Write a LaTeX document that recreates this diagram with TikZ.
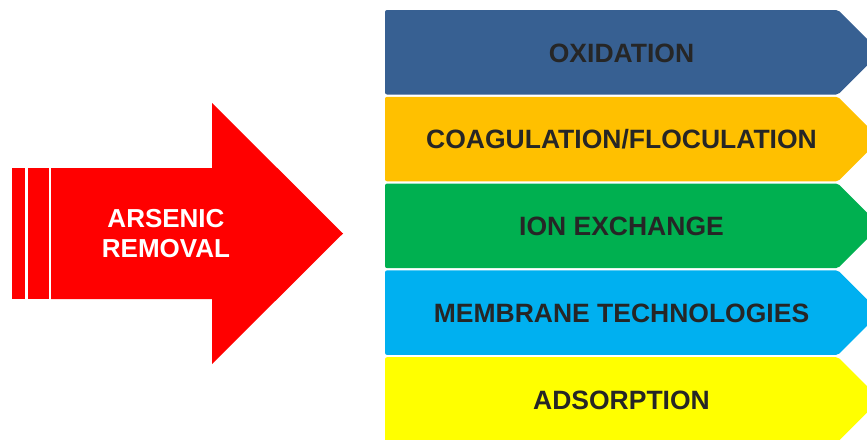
\documentclass[tikz,border=0pt]{standalone}
\usepackage{fontspec}
\setmainfont{Liberation Sans}
\usetikzlibrary{positioning}
\definecolor{arrowred}{HTML}{FF0000}
\definecolor{stageblue}{HTML}{376092}
\definecolor{stageorange}{HTML}{FFC000}
\definecolor{stagegreen}{HTML}{00B050}
\definecolor{stagecyan}{HTML}{00B0F0}
\definecolor{stageyellow}{HTML}{FFFF00}
\definecolor{darktext}{HTML}{262626}
\tikzset{
  stage/.style={font=\bfseries\fontsize{26.5}{30}\selectfont, text=darktext, inner sep=0pt, anchor=base},
  title/.style={font=\bfseries\fontsize{26}{30}\selectfont, text=white, align=center, inner sep=0pt},
  chevron/.style={rounded corners=2pt, draw=none},
}

\begin{document}
\begin{tikzpicture}[x=1pt, y=-1pt]
    \useasboundingbox (0,0) rectangle (867,439);
    \clip (0,0) rectangle (867,439);
    % big arrow with two stripes at its tail
    \fill[arrowred] (12,168) rectangle (25,299);
    \fill[arrowred] (28,168) rectangle (49,299);
    \fill[arrowred] (51,168) -- (212,168) -- (212,103) -- (343,233.5) -- (212,364) -- (212,299) -- (51,299) -- cycle;
    \node[title] (removal) at (166,234) {ARSENIC\\REMOVAL};
    % stacked chevrons, one per method
    \foreach \col/\txt [count=\i] in {stageblue/OXIDATION, stageorange/{COAGULATION/FLOCULATION},
        stagegreen/ION EXCHANGE, stagecyan/MEMBRANE TECHNOLOGIES, stageyellow/ADSORPTION}{
      \pgfmathsetmacro\top{10+(\i-1)*86.8}
      \fill[chevron, \col] (385,\top) -- (838,\top) -- (880.25,\top+42.25) -- (838,\top+84.5) -- (385,\top+84.5) -- cycle;
      \node[stage] (method\i) at (621.5,\top+52) {\txt};
    }
\end{tikzpicture}
\end{document}
